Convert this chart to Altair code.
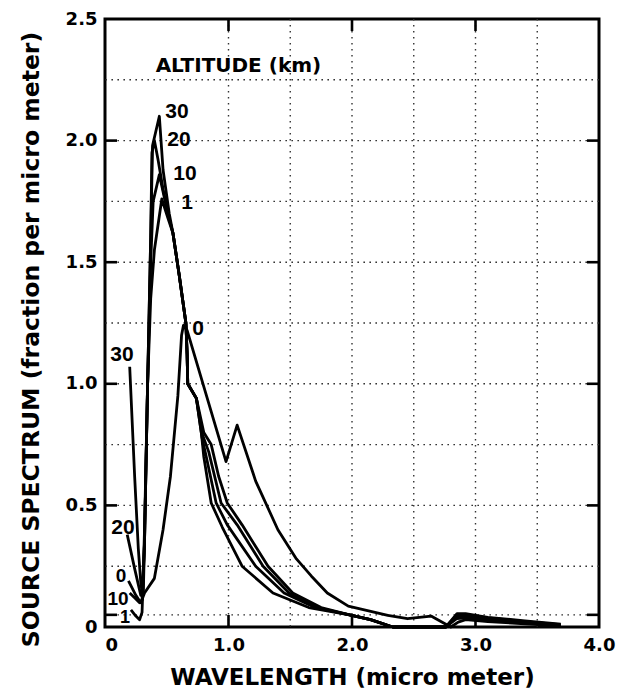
import altair as alt
import pandas as pd

# ---------------- data ----------------
altitudes = ["0", "1", "10", "20", "30"]

x_0km = [0.19, 0.25, 0.29, 0.32, 0.40, 0.47, 0.53, 0.59, 0.62, 0.635, 0.665, 0.98, 1.07, 1.22, 1.40, 1.55, 1.67, 1.80, 1.97, 2.29, 2.45, 2.64, 2.80, 2.86, 2.92, 3.10, 3.40, 3.69]
y_0km = [0.19, 0.13, 0.10, 0.14, 0.20, 0.40, 0.62, 0.95, 1.20, 1.24, 1.22, 0.68, 0.83, 0.60, 0.40, 0.28, 0.21, 0.14, 0.086, 0.048, 0.034, 0.045, 0.0, 0.02, 0.03, 0.022, 0.013, 0.005]

x_1km = [0.21, 0.25, 0.28, 0.30, 0.32, 0.345, 0.37, 0.40, 0.46, 0.51, 0.55, 0.60, 0.655, 0.665, 0.67, 0.74, 0.80, 0.86, 0.92, 0.99, 1.11, 1.32, 1.52, 1.75, 1.98, 2.15, 2.33, 2.76, 2.85, 2.92, 3.10, 3.40, 3.69]
y_1km = [0.07, 0.045, 0.03, 0.06, 0.35, 1.0, 1.35, 1.55, 1.76, 1.68, 1.62, 1.45, 1.25, 1.12, 1.0, 0.94, 0.80, 0.75, 0.62, 0.51, 0.42, 0.25, 0.14, 0.08, 0.05, 0.03, 0.0, 0.0, 0.035, 0.038, 0.028, 0.017, 0.006]

x_10km = [0.20, 0.24, 0.28, 0.30, 0.32, 0.345, 0.37, 0.39, 0.44, 0.50, 0.55, 0.60, 0.655, 0.665, 0.67, 0.74, 0.79, 0.84, 0.94, 1.07, 1.28, 1.49, 1.72, 1.98, 2.15, 2.33, 2.76, 2.85, 2.92, 3.10, 3.40, 3.69]
y_10km = [0.14, 0.12, 0.10, 0.11, 0.35, 1.0, 1.5, 1.75, 1.86, 1.72, 1.62, 1.45, 1.25, 1.12, 1.0, 0.94, 0.79, 0.72, 0.51, 0.42, 0.25, 0.14, 0.08, 0.05, 0.03, 0.0, 0.0, 0.045, 0.045, 0.033, 0.02, 0.008]

x_20km = [0.18, 0.24, 0.29, 0.31, 0.32, 0.345, 0.37, 0.38, 0.40, 0.43, 0.47, 0.52, 0.55, 0.60, 0.655, 0.665, 0.67, 0.74, 0.785, 0.82, 0.90, 0.99, 1.22, 1.45, 1.70, 1.98, 2.15, 2.33, 2.76, 2.85, 2.92, 3.10, 3.40, 3.69]
y_20km = [0.38, 0.24, 0.13, 0.14, 0.35, 1.0, 1.6, 1.95, 2.0, 1.92, 1.80, 1.68, 1.62, 1.45, 1.25, 1.12, 1.0, 0.94, 0.78, 0.70, 0.51, 0.42, 0.25, 0.14, 0.08, 0.05, 0.03, 0.0, 0.0, 0.05, 0.05, 0.037, 0.022, 0.01]

x_30km = [0.20, 0.24, 0.27, 0.29, 0.305, 0.32, 0.345, 0.37, 0.385, 0.44, 0.47, 0.52, 0.55, 0.60, 0.655, 0.665, 0.67, 0.74, 0.78, 0.80, 0.86, 0.95, 1.11, 1.36, 1.65, 1.98, 2.15, 2.33, 2.76, 2.85, 2.92, 3.10, 3.40, 3.69]
y_30km = [1.07, 0.62, 0.32, 0.18, 0.13, 0.40, 1.0, 1.6, 1.98, 2.10, 1.88, 1.70, 1.62, 1.45, 1.25, 1.12, 1.0, 0.94, 0.80, 0.70, 0.51, 0.41, 0.25, 0.14, 0.08, 0.05, 0.03, 0.0, 0.0, 0.055, 0.055, 0.04, 0.025, 0.012]

# curve labels (text, x, y, size)
label_text = ["30", "20", "10", "1", "0", "30", "20", "0", "10", "1"]
label_x = [0.583, 0.599, 0.648, 0.664, 0.753, 0.138, 0.146, 0.13, 0.105, 0.162]
label_y = [2.119, 2.004, 1.861, 1.742, 1.225, 1.119, 0.406, 0.209, 0.115, 0.037]
label_size = [21, 21, 21, 21, 21, 21, 21, 19, 19, 18]

legend_title = "ALTITUDE (km)"
legend_x = [0.41]
legend_y = [2.305]

x_ticks = [0, 1, 2, 3, 4]
y_ticks = [0, 0.5, 1.0, 1.5, 2.0, 2.5]
x_grid = [1.0, 1.5, 2.0, 2.5, 3.0, 3.5]
y_grid = [0.05, 0.25, 0.5, 0.75, 1.0, 1.25, 1.5, 1.75, 2.0, 2.25]
x_inner_ticks = [1.0, 2.0, 3.0]
y_inner_ticks = [0.05, 0.5, 1.0, 1.5, 2.0]

# ---------------- build tables ----------------
series = {"0": (x_0km, y_0km), "1": (x_1km, y_1km), "10": (x_10km, y_10km),
          "20": (x_20km, y_20km), "30": (x_30km, y_30km)}
rows = []
for alt_km in altitudes:
    xs_, ys_ = series[alt_km]
    for i, (a, b) in enumerate(zip(xs_, ys_)):
        rows.append({"alt": alt_km, "i": i, "wl": a, "val": b})
curves = pd.DataFrame(rows)
labels = pd.DataFrame({"t": label_text, "x": label_x, "y": label_y, "s": label_size})
legend = pd.DataFrame({"t": [legend_title], "x": legend_x, "y": legend_y})

W, H = 494, 608
TICK = 12
FONT_W = "DejaVu Sans"

xs = alt.Scale(domain=[0, 4], nice=False, zero=False)
ys = alt.Scale(domain=[0, 2.5], nice=False, zero=False)

lbl = "datum.value == 0 ? '0' : format(datum.value, '.1f')"

xaxis = alt.Axis(values=x_ticks, labelExpr=lbl, ticks=False, tickSize=0, domain=False, grid=False,
                 labelFont=FONT_W, labelFontWeight="bold", labelFontSize=18, labelColor="black",
                 labelPadding=9, labelFlush=False,
                 labelAlign={"expr": "datum.value == 0 ? 'left' : 'center'"},
                 title="WAVELENGTH (micro meter)", titleFont=FONT_W, titleFontWeight="bold",
                 titleFontSize=23, titleColor="black", titlePadding=12)
yaxis = alt.Axis(values=y_ticks, labelExpr=lbl, ticks=False, tickSize=0, domain=False, grid=False,
                 labelFont=FONT_W, labelFontWeight="bold", labelFontSize=18, labelColor="black",
                 labelPadding=8, labelFlush=False,
                 title="SOURCE SPECTRUM (fraction per micro meter)", titleFont=FONT_W,
                 titleFontWeight="bold", titleFontSize=23.5, titleColor="black", titlePadding=22,
                 titleY=320)

base_lines = alt.Chart(curves).mark_line(color="black", strokeWidth=2.8, strokeJoin="round").encode(
    x=alt.X("wl:Q", scale=xs, axis=xaxis),
    y=alt.Y("val:Q", scale=ys, axis=yaxis),
    detail="alt:N",
    order="i:Q",
)

grid_style = dict(color="#333333", strokeWidth=1.4, strokeDash=[1.6, 4.4])
hgrid = alt.Chart(pd.DataFrame({"y": y_grid})).mark_rule(**grid_style).encode(
    y=alt.Y("y:Q", scale=ys))
vgrid = alt.Chart(pd.DataFrame({"x": x_grid})).mark_rule(**grid_style).encode(
    x=alt.X("x:Q", scale=xs))

tick_style = dict(color="black", strokeWidth=2.6)
ldf = pd.DataFrame({"y": y_inner_ticks})
bdf = pd.DataFrame({"x": x_inner_ticks})
left_ticks = alt.Chart(ldf).mark_rule(**tick_style).encode(
    y=alt.Y("y:Q", scale=ys), x=alt.value(0), x2=alt.value(TICK))
right_ticks = alt.Chart(ldf).mark_rule(**tick_style).encode(
    y=alt.Y("y:Q", scale=ys), x=alt.value(W - TICK), x2=alt.value(W))
bottom_ticks = alt.Chart(bdf).mark_rule(**tick_style).encode(
    x=alt.X("x:Q", scale=xs), y=alt.value(H - TICK), y2=alt.value(H))
top_ticks = alt.Chart(bdf).mark_rule(**tick_style).encode(
    x=alt.X("x:Q", scale=xs), y=alt.value(0), y2=alt.value(TICK))

curve_labels = alt.Chart(labels).mark_text(
    font="Liberation Sans", fontWeight="bold", color="black",
    align="center", baseline="middle").encode(
    x=alt.X("x:Q", scale=xs), y=alt.Y("y:Q", scale=ys), text="t:N",
    size=alt.Size("s:Q", scale=None, legend=None))

legend_text = alt.Chart(legend).mark_text(
    font=FONT_W, fontWeight="bold", fontSize=20, color="black",
    align="left", baseline="middle").encode(
    x=alt.X("x:Q", scale=xs), y=alt.Y("y:Q", scale=ys), text="t:N")

chart = alt.layer(
    hgrid, vgrid, left_ticks, right_ticks, bottom_ticks, top_ticks,
    base_lines, curve_labels, legend_text
).properties(
    width=W, height=H,
    autosize=alt.AutoSizeParams(type="none"),
    padding={"left": 97, "top": 11, "right": 27, "bottom": 66},
    background="white",
).configure_view(stroke="black", strokeWidth=3)

chart.save("out.html", embed_options={"renderer": "svg", "actions": False})
